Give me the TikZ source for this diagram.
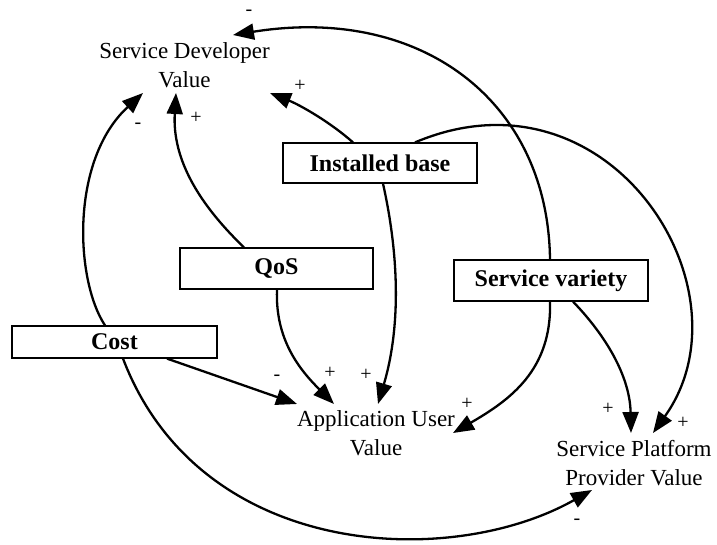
\documentclass[tikz,border=0pt]{standalone}
\usepackage{fontspec}
\setmainfont{Liberation Serif}
\usetikzlibrary{arrows.meta,calc}
\begin{document}
\begin{tikzpicture}[x=1pt,y=-1pt,
  box/.style={draw, line width=1.2pt, inner sep=0pt, font=\bfseries\fontsize{24}{28}\selectfont},
  val/.style={align=center, inner sep=0pt, font=\fontsize{23}{29}\selectfont},
  sgn/.style={inner sep=0pt, font=\fontsize{20}{22}\selectfont},
  link/.style={line width=2.3pt, -{Triangle[length=21pt,width=16pt]}}]
\useasboundingbox (0,0) rectangle (717,545);
% value nodes
\node[val] (sdv) at (184.5,65.5) {Service Developer\\Value};
\node[val] (auv) at (376,433.5) {Application User\\Value};
\node[val] (sppv) at (634,463) {Service Platform\\Provider Value};
% boxes
\node[box, minimum width=194pt, minimum height=40pt] (ib) at (380,163) {Installed base};
\node[box, minimum width=193pt, minimum height=41pt] (qos) at (276.5,268.5) {QoS};
\node[box, minimum width=205pt, minimum height=32pt] (cost) at (114.5,342) {Cost};
\node[box, minimum width=194pt, minimum height=41pt] (sv) at (551,280.5) {Service variety};
% connectors to Service Developer Value
\draw[link] ([xshift=-27pt]ib.north) .. controls (330,122) and (300,105) .. ($(sdv)+(85.5,27.5)$);
\draw[link] ([xshift=-32.5pt]qos.north) .. controls (200,205) and (172,160) .. ($(sdv)+(-8.5,27.5)$);
\draw[link] ([xshift=-9.5pt]cost.north) .. controls (75,280) and (70,160) .. ($(sdv)+(-41.5,27.5)$);
\draw[link] ([xshift=-1pt]sv.north) .. controls (548,100) and (420,5) .. ($(sdv)+(48.5,-30.5)$);
% connectors to Application User Value
\draw[link] ([xshift=3pt]ib.south) .. controls (400,260) and (400,330) .. ($(auv)+(2,-29.5)$);
\draw[link] ([xshift=0.5pt]qos.south) .. controls (275,340) and (300,370) .. ($(auv)+(-42,-29.5)$);
\draw[link] ([xshift=52.5pt]cost.south) -- ($(auv)+(-79,-29.5)$);
\draw[link] ([xshift=-1pt]sv.south) .. controls (552,370) and (510,400) .. ($(auv)+(77,-0.5)$);
% connectors to Service Platform Provider Value
\draw[link] ([xshift=35pt]ib.north) .. controls (610,60) and (755,290) .. ($(sppv)+(19,-30)$);
\draw[link] ([xshift=22pt]sv.south) .. controls (610,340) and (630,380) .. ($(sppv)+(-3,-30)$);
\draw[link] ([xshift=8.5pt]cost.south) .. controls (200,560) and (450,570) .. ($(sppv)+(-42,27)$);
% polarity signs
\node[sgn] (s1) at (300,86) {+};
\node[sgn] (s2) at (196,118) {+};
\node[sgn] (s3) at (138,126) {-};
\node[sgn] (s4) at (249,13) {-};
\node[sgn] (s5) at (277,378) {-};
\node[sgn] (s6) at (330,373) {+};
\node[sgn] (s7) at (366,375) {+};
\node[sgn] (s8) at (467,404) {+};
\node[sgn] (s9) at (608,409) {+};
\node[sgn] (s10) at (683,423) {+};
\node[sgn] (s11) at (577,522) {-};
\end{tikzpicture}
\end{document}
